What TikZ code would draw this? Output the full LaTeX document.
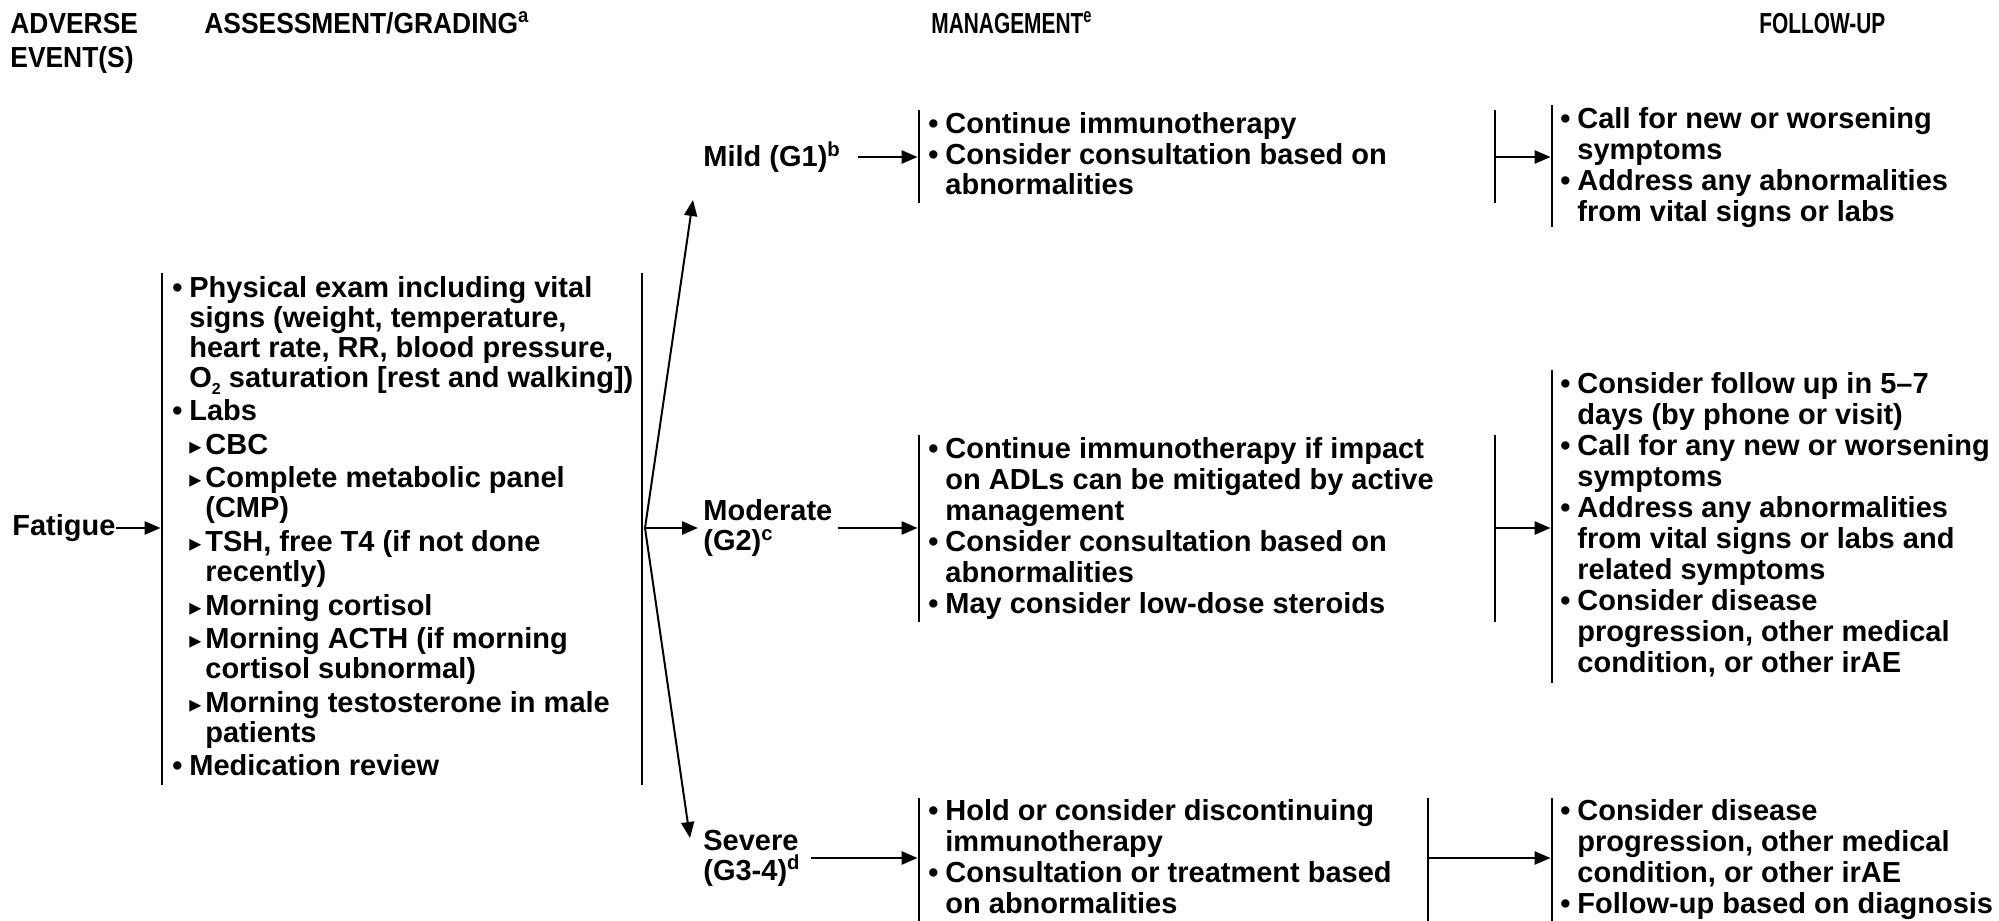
\documentclass[tikz,border=0pt]{standalone}
\usepackage{fontspec}
\usepackage{graphicx}
\setmainfont{Liberation Sans}
\newfontfamily\dejavu{DejaVu Sans}
\usetikzlibrary{arrows.meta}
\newcommand{\fs}{\fontsize{14.5pt}{15pt}\selectfont}
\newcommand{\tri}{{\dejavu\fontsize{12pt}{12pt}\selectfont ▸}}
\newcommand{\itm}{\par\hangindent=8.5pt\hangafter=1\noindent\makebox[8.5pt][l]{•}}
\newcommand{\subitm}{\par\hangindent=16.5pt\hangafter=1\noindent\hspace*{8.5pt}\makebox[8pt][l]{\tri}}
\newcommand{\brk}{\newline}
\newcommand{\blk}[3]{\parbox[t]{300pt}{\fontsize{14.5pt}{#2}\selectfont\bfseries\setlength{\parskip}{#1}\raggedright #3\par}}
\newcommand{\otwo}{O\raisebox{-3.5pt}{\fontsize{8pt}{8pt}\selectfont 2}}
\begin{document}
\begin{tikzpicture}[x=0.5pt,y=-0.5pt,
  txt/.style={inner sep=0pt,anchor=base west,font=\fs\bfseries},
  hdr/.style={inner sep=0pt,anchor=base west,font=\fs\bfseries},
  lbl/.style={inner xsep=2.5pt,inner ysep=0pt,anchor=west,font=\fs\bfseries,align=left},
  bar/.style={line width=1.3pt},
  arr/.style={line width=1.3pt,-{Triangle[length=8pt,width=6.5pt]}},
  brl/.style={line width=1pt,-{Triangle[length=8pt,width=6.5pt]}}]
\useasboundingbox (0,0) rectangle (1999,921);
% headers
\node[hdr] (hAE) at (10,33) {\parbox[t]{100pt}{\fontsize{14.5pt}{17pt}\selectfont\bfseries
  \scalebox{0.91}[1]{ADVERSE}\\\scalebox{0.91}[1]{EVENT(S)}}};
\node[hdr] (hAG) at (204,33) {\scalebox{0.91}[1]{ASSESSMENT/GRADING\textsuperscript{a}}};
\node[hdr] (hM) at (931,33) {\scalebox{0.72}[1]{MANAGEMENT\textsuperscript{e}}};
\node[hdr] (hF) at (1759,33) {\scalebox{0.72}[1]{FOLLOW-UP}};
% fatigue
\node[lbl,inner xsep=0pt] (fat) at (12,528) {Fatigue};
\coordinate (aL) at (162,528);
\draw[arr] (fat.east) -- ([xshift=-0.7pt]aL);
% assessment
\draw[bar] (162,273) -- (162,785);
\draw[bar] (642,273) -- (642,785);
\node[txt] (assess) at (172,297) {\blk{1.8pt}{15pt}{\itm Physical exam including vital\brk signs (weight, temperature,\brk heart rate, RR, blood pressure,\brk \otwo{} saturation [rest and walking])
\itm Labs
\subitm CBC
\subitm Complete metabolic panel\brk (CMP)
\subitm TSH, free T4 (if not done\brk recently)
\subitm Morning cortisol
\subitm Morning ACTH (if morning\brk cortisol subnormal)
\subitm Morning testosterone in male\brk patients
\itm Medication review}};
% branch
\coordinate (br) at (645,528);
\coordinate (mTip) at (693,200);
\coordinate (sTip) at (690,838);
\draw[brl] (br) -- (mTip);
\draw[brl] (br) -- (sTip);
% mild
\node[lbl] (mild) at (698,157) {Mild (G1)\textsuperscript{b}};
\coordinate (mML) at (919,157);
\draw[arr] ([xshift=6pt]mild.east) -- ([xshift=-0.7pt]mML);
\draw[bar] (919,110) -- (919,203);
\node[txt] (mildM) at (928,133) {\blk{0pt}{15.5pt}{\itm Continue immunotherapy
\itm Consider consultation based on\brk abnormalities}};
\draw[bar] (1495,110) -- (1495,203);
\coordinate (mMR) at (1495,157);
\coordinate (mFL) at (1552,157);
\draw[arr] (mMR) -- ([xshift=-0.7pt]mFL);
\draw[bar] (1552,105) -- (1552,227);
\node[txt] (mildF) at (1560,128) {\blk{0pt}{15.5pt}{\itm Call for new or worsening\brk symptoms
\itm Address any abnormalities\brk from vital signs or labs}};
% moderate
\node[lbl] (mod) at (698,528) {Moderate\\(G2)\textsuperscript{c}};
\draw[arr] (br) -- (mod.west);
\coordinate (dML) at (919,528);
\draw[arr] (mod.east) -- ([xshift=-0.7pt]dML);
\draw[bar] (919,435) -- (919,622);
\node[txt] (modM) at (928,458) {\blk{0pt}{15.5pt}{\itm Continue immunotherapy if impact\brk on ADLs can be mitigated by active\brk management
\itm Consider consultation based on\brk abnormalities
\itm May consider low-dose steroids}};
\draw[bar] (1495,435) -- (1495,622);
\coordinate (dMR) at (1495,528);
\coordinate (dFL) at (1552,528);
\draw[arr] (dMR) -- ([xshift=-0.7pt]dFL);
\draw[bar] (1552,370) -- (1552,683);
\node[txt] (modF) at (1560,393) {\blk{0pt}{15.5pt}{\itm Consider follow up in 5–7\brk days (by phone or visit)
\itm Call for any new or worsening\brk symptoms
\itm Address any abnormalities\brk from vital signs or labs and\brk related symptoms
\itm Consider disease\brk progression, other medical\brk condition, or other irAE}};
% severe
\node[lbl] (sev) at (698,858) {Severe\\(G3-4)\textsuperscript{d}};
\coordinate (sML) at (919,858);
\draw[arr] ([xshift=2.5pt]sev.east) -- ([xshift=-0.7pt]sML);
\draw[bar] (919,798) -- (919,921);
\node[txt] (sevM) at (928,820) {\blk{0pt}{15.5pt}{\itm Hold or consider discontinuing\brk immunotherapy
\itm Consultation or treatment based\brk on abnormalities}};
\draw[bar] (1428,798) -- (1428,921);
\coordinate (sMR) at (1428,858);
\coordinate (sFL) at (1552,858);
\draw[arr] (sMR) -- ([xshift=-0.7pt]sFL);
\draw[bar] (1552,798) -- (1552,921);
\node[txt] (sevF) at (1560,820) {\blk{0pt}{15.5pt}{\itm Consider disease\brk progression, other medical\brk condition, or other irAE
\itm Follow-up based on diagnosis}};
\end{tikzpicture}
\end{document}
